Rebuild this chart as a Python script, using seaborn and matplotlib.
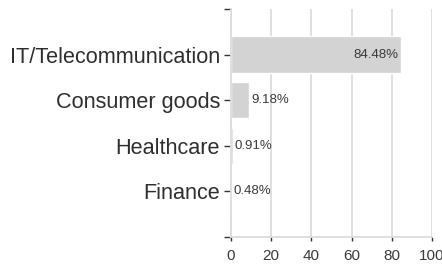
import matplotlib
matplotlib.use("Agg")
import matplotlib.pyplot as plt
import pandas as pd
import seaborn as sns

# Data
industries = ["IT/Telecommunication", "Consumer goods", "Healthcare", "Finance"]
shares = [84.48, 9.18, 0.91, 0.48]
x_ticks = [0, 20, 40, 60, 80, 100]

df = pd.DataFrame({"industry": industries, "share": shares})

sns.set_theme(style="white")
plt.rcParams["font.family"] = ["Liberation Sans", "DejaVu Sans"]

fig = plt.figure(figsize=(4.42, 2.71), dpi=100)
ax = fig.add_axes([231 / 442, 1 - 237 / 271, 201 / 442, 228 / 271])

sns.barplot(data=df, x="share", y="industry", color="#d3d3d3", saturation=1,
            width=0.8, ax=ax, zorder=2)

ax.set_xlim(0, 100)
ax.set_ylim(4, -1)
ax.set_xticks(x_ticks)
ax.set_xticklabels([str(t) for t in x_ticks], fontsize=11, color="#3a3a3a")
ax.set_yticks([-1, 0, 1, 2, 3, 4])
ax.set_yticklabels([""] + industries + [""], fontsize=15.6, color="#2e2e2e")
ax.set_xlabel("")
ax.set_ylabel("")

# Grid and axis lines
ax.grid(axis="x", color="#dcdcdc", linewidth=1.3, zorder=0)
ax.set_axisbelow(True)
for side in ["top", "right"]:
    ax.spines[side].set_visible(False)
for side in ["left", "bottom"]:
    ax.spines[side].set_color("#dcdcdc")
    ax.spines[side].set_linewidth(1.3)
ax.tick_params(axis="y", length=5, width=1, color="#333333", pad=3, left=True)
ax.tick_params(axis="x", length=3, width=1, color="#333333", pad=6, bottom=True)

# Value labels
for i, v in enumerate(shares):
    label = f"{v:.2f}%"
    if v > 50:
        ax.text(v - 1, i, label, ha="right", va="center", fontsize=9.5, color="#3a3a3a")
    else:
        ax.text(v + 1, i, label, ha="left", va="center", fontsize=9.5, color="#3a3a3a")

fig.savefig("out.png", dpi=100)
